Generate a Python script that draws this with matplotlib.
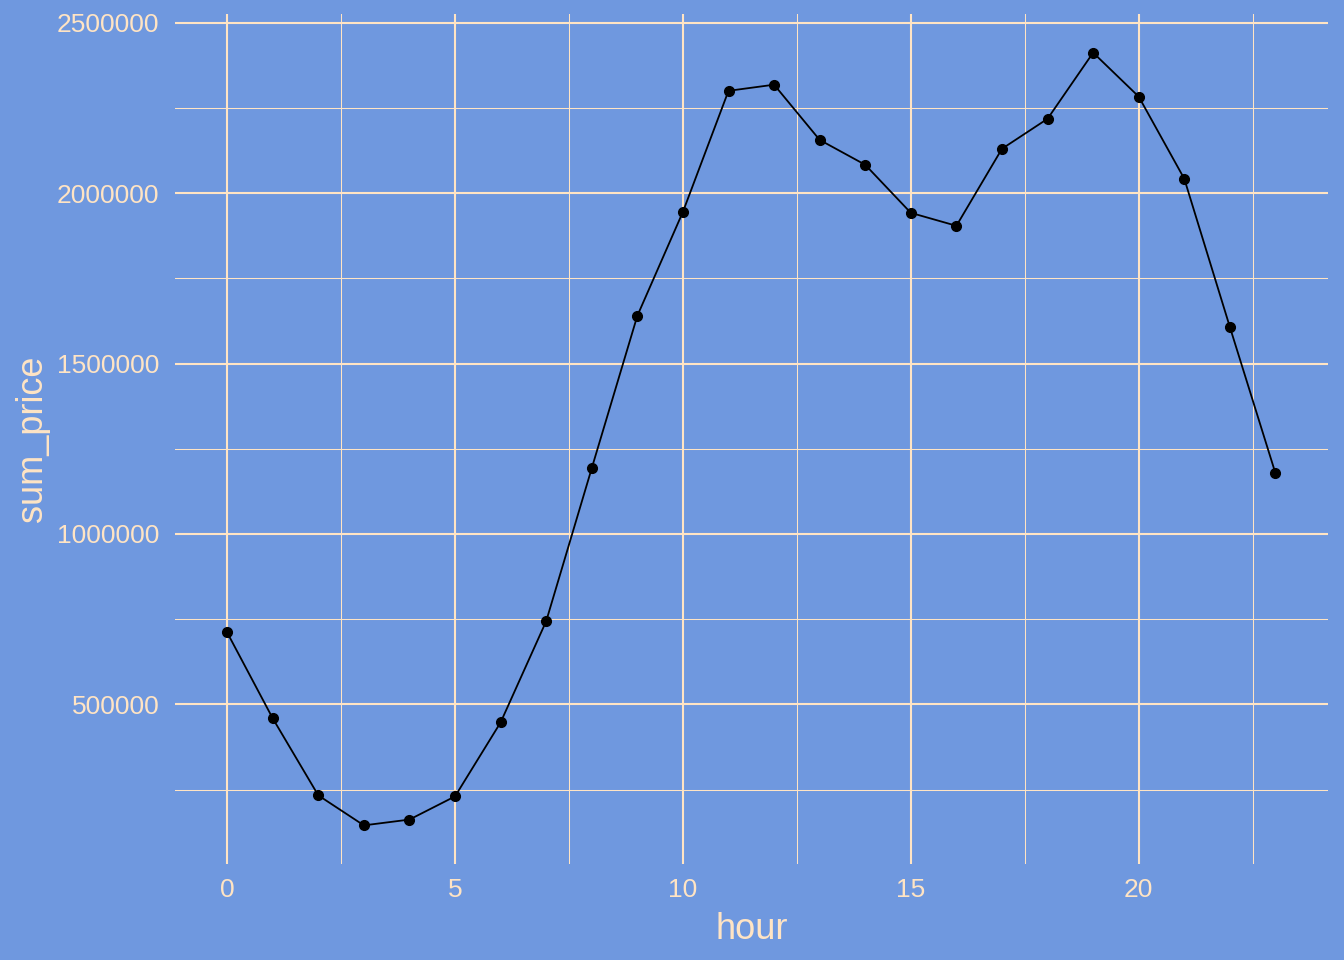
import matplotlib
matplotlib.use('Agg')
import matplotlib.pyplot as plt
from matplotlib.ticker import FixedLocator

plt.rcParams['font.family'] = ['Liberation Sans', 'DejaVu Sans']

# hourly totals
hour = list(range(24))
sum_price = [711000, 459000, 233000, 145000, 162000, 230000, 447000, 744000,
             1193000, 1640000, 1945000, 2300000, 2318000, 2156000, 2083000, 1942000,
             1904000, 2130000, 2218000, 2412000, 2283000, 2042000, 1607000, 1178000]

BG = '#6F98DF'
GRID = '#FFE4C4'
TXT = '#FFE4C4'

fig = plt.figure(figsize=(13.44, 9.6), dpi=100, facecolor=BG)
ax = fig.add_axes([0.130, 0.10, 0.858, 0.8854])
ax.set_facecolor(BG)

ax.plot(hour, sum_price, color='black', lw=1.3, zorder=3)
ax.plot(hour, sum_price, 'o', color='black', ms=7, zorder=4)

# ggplot-style 5% expansion
xr = max(hour) - min(hour)
yr = max(sum_price) - min(sum_price)
ax.set_xlim(min(hour) - 0.05 * xr, max(hour) + 0.05 * xr)
ax.set_ylim(min(sum_price) - 0.05 * yr, max(sum_price) + 0.05 * yr)

ax.xaxis.set_major_locator(FixedLocator([0, 5, 10, 15, 20]))
ax.xaxis.set_minor_locator(FixedLocator([2.5, 7.5, 12.5, 17.5, 22.5]))
ax.yaxis.set_major_locator(FixedLocator([500000, 1000000, 1500000, 2000000, 2500000]))
ax.yaxis.set_minor_locator(FixedLocator([250000, 750000, 1250000, 1750000, 2250000]))
ax.set_yticklabels(['500000', '1000000', '1500000', '2000000', '2500000'])

ax.grid(which='major', color=GRID, lw=1.5, zorder=0)
ax.grid(which='minor', color=GRID, lw=0.75, zorder=0)
ax.set_axisbelow(True)

for s in ax.spines.values():
    s.set_visible(False)
ax.tick_params(which='both', length=0)
ax.tick_params(axis='y', labelsize=19, labelcolor=TXT, pad=11)
ax.tick_params(axis='x', labelsize=19, labelcolor=TXT, pad=10)

ax.set_xlabel('hour', fontsize=26, color=TXT, labelpad=7)
ax.set_ylabel('sum_price', fontsize=26, color=TXT, labelpad=5)

plt.savefig('out.png', dpi=100, facecolor=BG)
